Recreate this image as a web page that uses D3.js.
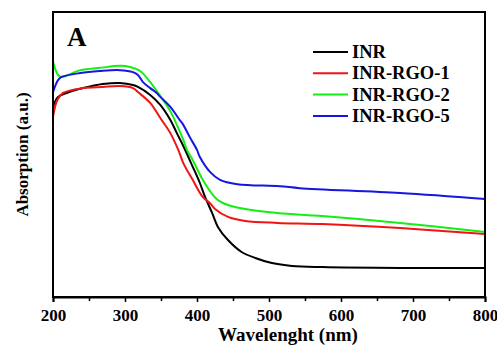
<!DOCTYPE html>
<html>
<head>
<meta charset="utf-8">
<script src="https://d3js.org/d3.v7.min.js"></script>
<style>
  body { margin: 0; background: #fff; }
  svg text { font-family: "Liberation Serif", "Times New Roman", serif !important; font-weight: bold; }
</style>
</head>
<body>
<script>
// UV-vis absorption spectra (arbitrary units)
var seriesNames = ["INR", "INR-RGO-1", "INR-RGO-2", "INR-RGO-5"];
var seriesColors = ["#000000", "#f01414", "#14ee14", "#1616e0"];

var inr = [[200,0.667],[207,0.702],[219,0.716],[242,0.733],[269,0.747],[293,0.751],[311,0.744],[318,0.737],
  [335,0.709],[349,0.674],[363,0.621],[372,0.575],[381,0.530],[393,0.463],[404,0.400],[411,0.352],[421,0.295],
  [429,0.246],[443,0.200],[462,0.158],[481,0.137],[504,0.119],[532,0.109],[574,0.105],[682,0.102],[800,0.102]];
var rgo1 = [[200,0.632],[206,0.691],[214,0.716],[242,0.733],[269,0.737],[293,0.740],[311,0.733],[318,0.719],
  [335,0.681],[349,0.628],[363,0.575],[374,0.516],[381,0.470],[394,0.411],[408,0.351],[418,0.329],[425,0.309],
  [443,0.281],[467,0.267],[512,0.260],[574,0.256],[682,0.242],[800,0.221]];
var rgo2 = [[200,0.825],[207,0.779],[212,0.772],[238,0.796],[265,0.804],[293,0.811],[307,0.807],[321,0.793],
  [335,0.754],[348,0.709],[362,0.656],[372,0.604],[381,0.551],[386,0.516],[394,0.481],[408,0.411],[422,0.358],
  [429,0.340],[443,0.323],[467,0.309],[512,0.295],[574,0.284],[682,0.260],[800,0.228]];
var rgo5 = [[200,0.719],[207,0.761],[212,0.772],[238,0.786],[265,0.793],[293,0.796],[311,0.789],[318,0.779],
  [325,0.754],[335,0.733],[344,0.716],[349,0.702],[363,0.667],[376,0.621],[381,0.604],[390,0.561],[400,0.516],
  [404,0.491],[418,0.439],[432,0.411],[456,0.396],[515,0.389],[543,0.382],[682,0.365],[800,0.344]];
var allSeries = [inr, rgo1, rgo2, rgo5];

var xMajor = [200, 300, 400, 500, 600, 700, 800];
var xMinor = [250, 350, 450, 550, 650, 750];

var serif = "'Liberation Serif', 'Times New Roman', serif";
var width = 497, height = 347;
var margin = {top: 12, right: 12, bottom: 50, left: 53};

var svg = d3.select("body").append("svg")
  .attr("width", width)
  .attr("height", height)
  .attr("font-family", serif);

var x = d3.scaleLinear().domain([200, 800]).range([margin.left, width - margin.right]);
var y = d3.scaleLinear().domain([0, 1]).range([height - margin.bottom, margin.top]);

var line = d3.line()
  .x(function(d) { return x(d[0]); })
  .y(function(d) { return y(d[1]); })
  .curve(d3.curveCatmullRom.alpha(0.5));

svg.append("g").selectAll("path")
  .data(allSeries)
  .enter().append("path")
  .attr("d", line)
  .attr("fill", "none")
  .attr("stroke", function(d, i) { return seriesColors[i]; })
  .attr("stroke-width", 2);

// frame
svg.append("rect")
  .attr("x", x(200)).attr("y", y(1))
  .attr("width", x(800) - x(200)).attr("height", y(0) - y(1))
  .attr("fill", "none").attr("stroke", "#000").attr("stroke-width", 2);

// x axis
var xAxis = svg.append("g")
  .attr("transform", "translate(0," + y(0) + ")")
  .call(d3.axisBottom(x).tickValues(xMajor).tickSize(5).tickFormat(d3.format("d")));
xAxis.attr("font-family", serif);
xAxis.select(".domain").attr("stroke-width", 2);
xAxis.selectAll(".tick line").attr("stroke-width", 1.5);
xAxis.selectAll("text").attr("font-size", 17).attr("font-family", serif).attr("dy", "0.95em");

svg.append("g")
  .attr("transform", "translate(0," + y(0) + ")")
  .call(d3.axisBottom(x).tickValues(xMinor).tickSize(4).tickFormat(""))
  .call(function(g) { g.select(".domain").remove(); g.selectAll("line").attr("stroke-width", 1.5); });

svg.append("text")
  .attr("x", 288).attr("y", 341)
  .attr("text-anchor", "middle").attr("font-size", 19)
  .text("Wavelenght (nm)");

svg.append("text")
  .attr("transform", "translate(28," + ((y(0) + y(1)) / 2) + ") rotate(-90)")
  .attr("text-anchor", "middle").attr("font-size", 17)
  .text("Absorption (a.u.)");

svg.append("text")
  .attr("x", 67).attr("y", 46)
  .attr("font-size", 27)
  .text("A");

// legend
var legend = svg.append("g").selectAll("g")
  .data(seriesNames)
  .enter().append("g")
  .attr("transform", function(d, i) { return "translate(313," + (52 + i * 21.3) + ")"; });
legend.append("line")
  .attr("x1", 0).attr("x2", 35)
  .attr("stroke", function(d, i) { return seriesColors[i]; })
  .attr("stroke-width", 2);
legend.append("text")
  .attr("x", 39).attr("y", 6)
  .attr("font-size", 18.5)
  .text(function(d) { return d; });
</script>
</body>
</html>
